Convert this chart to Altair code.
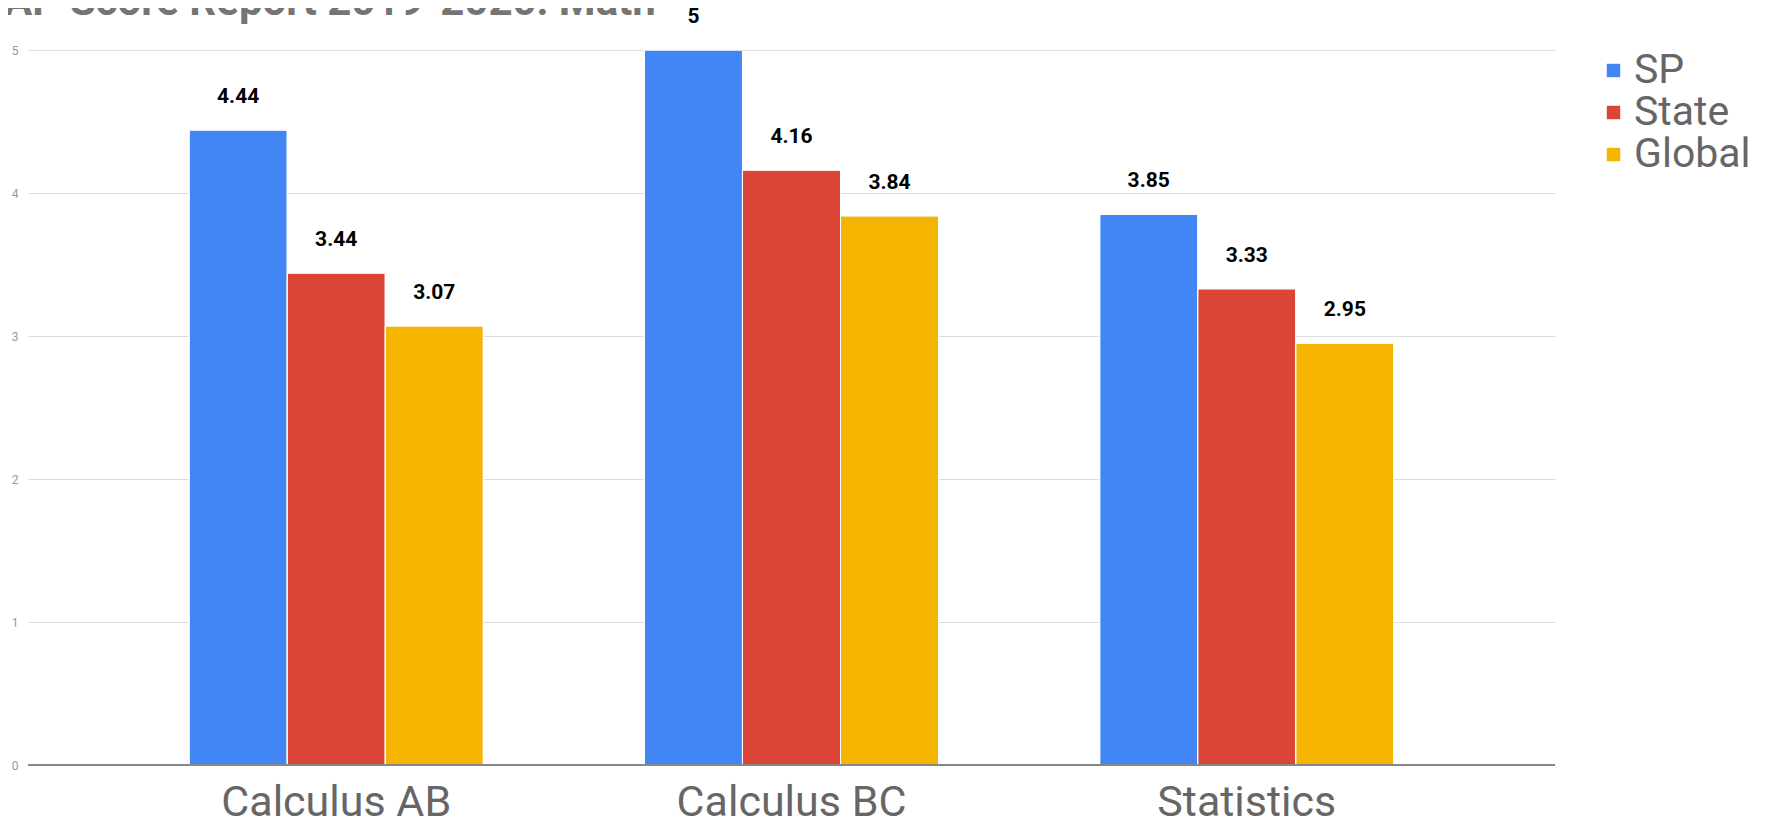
import altair as alt
import pandas as pd

courses = ["Calculus AB", "Calculus BC", "Statistics"]
series = ["SP", "State", "Global"]
sp_values = [4.44, 5, 3.85]
state_values = [3.44, 4.16, 3.33]
global_values = [3.07, 3.84, 2.95]
colors = ["#4285F4", "#DB4437", "#F4B400"]
y_ticks = [0, 1, 2, 3, 4, 5]
title_text = ["AP Score Report 2019-2020: Math"]

rows = []
for i, c in enumerate(courses):
    for s, vals in zip(series, [sp_values, state_values, global_values]):
        v = vals[i]
        rows.append({"course": c, "series": s, "value": v, "label": f"{v:g}"})
df = pd.DataFrame(rows)

FONT = "Roboto"

x_enc = alt.X("course:N", sort=courses,
              scale=alt.Scale(paddingInner=0.354, paddingOuter=0.354),
              axis=alt.Axis(title=None, labelFontSize=43, labelColor="#666666",
                            labelFont=FONT, labelAngle=0, ticks=False, domain=False,
                            labelBaseline="alphabetic", labelPadding=50,
                            grid=False, labelLimit=0))
xoff = alt.XOffset("series:N", sort=series, scale=alt.Scale(paddingInner=0, paddingOuter=0))
y_enc = alt.Y("value:Q", scale=alt.Scale(domain=[0, 5], nice=False),
              axis=alt.Axis(title=None, values=y_ticks, format="d", labelFontSize=12,
                            labelColor="#999999", labelFont=FONT, ticks=False,
                            domain=False, labelPadding=10, grid=True,
                            gridColor="#dddddd", gridWidth=1))

base = alt.Chart(df)

bars = base.mark_bar(stroke="white", strokeWidth=1, cornerRadiusTopLeft=2,
                     cornerRadiusTopRight=2).encode(
    x=x_enc, xOffset=xoff, y=y_enc,
    color=alt.Color("series:N", sort=series,
                    scale=alt.Scale(domain=series, range=colors),
                    legend=alt.Legend(title=None, orient="none", legendX=1565, legendY=0,
                                      symbolType="square", symbolSize=180,
                                      symbolStrokeWidth=0, labelFontSize=41,
                                      labelFont=FONT, labelColor="#666666",
                                      labelOffset=0, rowPadding=0, padding=0,
                                      symbolOffset=0, labelLimit=0)),
)

labels = base.mark_text(font=FONT, fontSize=21, fontWeight="bold", color="#000000",
                        baseline="alphabetic", dy=-27).encode(
    x=alt.X("course:N", sort=courses), xOffset=xoff,
    y=alt.Y("value:Q"), text="label:N",
)

baseline_df = pd.DataFrame({"v": [0]})
base_rule = alt.Chart(baseline_df).mark_rule(color="#888888", strokeWidth=2).encode(
    y=alt.Y("v:Q"))

title_df = pd.DataFrame({"t": title_text})
title_mark = alt.Chart(title_df).mark_text(
    font=FONT, fontSize=42, fontWeight="bold", color="#757575",
    align="left", baseline="alphabetic").encode(
    x=alt.value(-24), y=alt.value(-35), text="t:N")

chart = alt.layer(bars, labels, base_rule, title_mark).properties(
    width=1527, height=715,
    autosize=alt.AutoSizeParams(type="none"),
    padding={"left": 20, "top": 42, "right": 200, "bottom": 53},
).configure_view(stroke=None)

chart.save("out.html", embed_options={"renderer": "svg", "actions": False})
